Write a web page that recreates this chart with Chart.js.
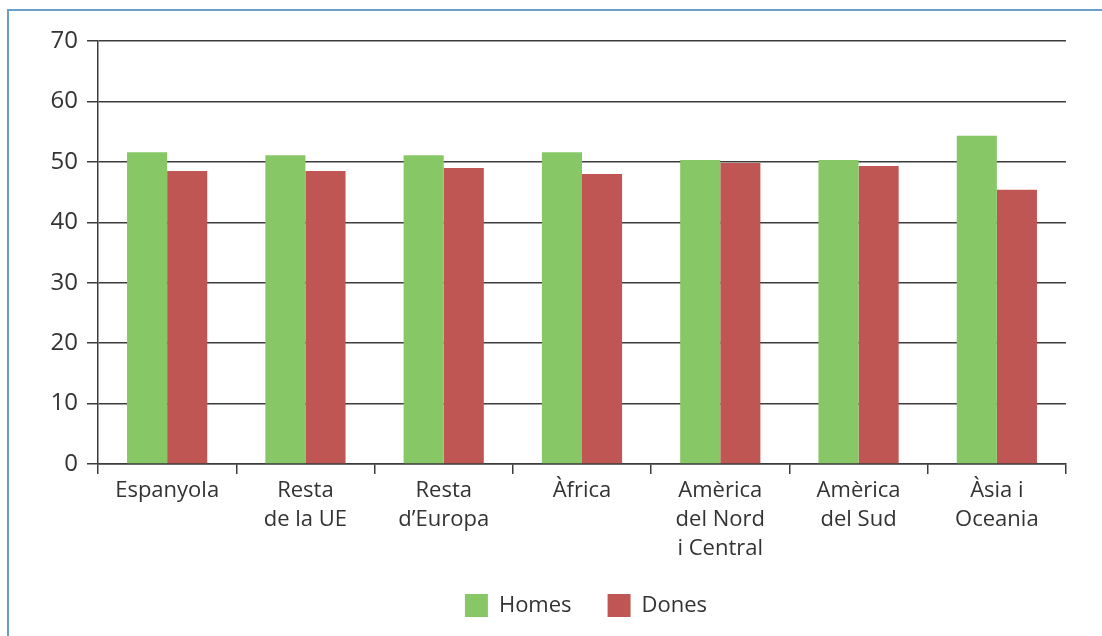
<!DOCTYPE html>
<html>
<head>
<meta charset="utf-8">
<script src="https://cdn.jsdelivr.net/npm/chart.js@4.4.1/dist/chart.umd.min.js"></script>
<style>
  html, body { margin: 0; padding: 0; background: #fff; }
  #marc { position: absolute; left: 7px; top: 9px; width: 1200px; height: 700px;
          border-left: 2px solid #6a9fcc; border-top: 2px solid #6a9fcc; }
  #wrap { position: absolute; left: 0; top: 0; width: 1102px; height: 636px; }
</style>
</head>
<body>
<div id="marc"></div>
<div id="wrap"><canvas id="grafic" width="1102" height="636"></canvas></div>
<script>
// Dades del gràfic
const categories = [
    "Espanyola",
    ["Resta", "de la UE"],
    ["Resta", "d\u2019Europa"],
    "\u00c0frica",
    ["Am\u00e8rica", "del Nord", "i Central"],
    ["Am\u00e8rica", "del Sud"],
    ["\u00c0sia i", "Oceania"]
];
const homes = [51.6, 51.1, 51.1, 51.6, 50.3, 50.3, 54.3];
const dones = [48.5, 48.5, 49.0, 48.0, 49.8, 49.3, 45.4];
const ticksY = [0, 10, 20, 30, 40, 50, 60, 70];

const colorText = "#333333";
const colorLinia = "#3c3c3c";
const font = { family: "'Open Sans', sans-serif", size: 22, lineHeight: 1.32 };
const fontY = { family: "'Open Sans', sans-serif", size: 24 };

// centra la llegenda sota l'àrea del gràfic, no sota tot el canvas
const llegendaCentrada = {
    id: 'llegendaCentrada',
    afterLayout(chart) {
        chart.legend.left = chart.chartArea.left + 4;
        chart.legend.right = chart.chartArea.right + 4;
    }
};

const ctx = document.getElementById('grafic').getContext('2d');
new Chart(ctx, {
    type: 'bar',
    data: {
        labels: categories,
        datasets: [
            { label: "Homes", data: homes, backgroundColor: "#88c766" },
            { label: "Dones", data: dones, backgroundColor: "#c05654" }
        ]
    },
    options: {
        responsive: false,
        animation: false,
        categoryPercentage: 0.58,
        barPercentage: 1.0,
        layout: { padding: { left: 0, right: 36, top: 41, bottom: 9 } },
        plugins: {
            legend: {
                position: 'bottom',
                labels: {
                    boxWidth: 23,
                    boxHeight: 23,
                    padding: 36,
                    color: colorText,
                    font: font
                }
            },
            tooltip: { enabled: false }
        },
        scales: {
            x: {
                grid: { drawOnChartArea: false, tickLength: 10, color: colorLinia, lineWidth: 1.5, offset: true },
                border: { color: colorLinia, width: 1.5 },
                ticks: { color: colorText, font: font, padding: 2, maxRotation: 0, autoSkip: false },
                afterFit: s => { s.height = 94; }
            },
            y: {
                min: 0,
                max: 70,
                afterBuildTicks: s => { s.ticks = ticksY.map(v => ({ value: v })); },
                grid: { color: colorLinia, lineWidth: 1.5, tickLength: 11 },
                border: { color: colorLinia, width: 1.5 },
                ticks: { color: colorText, font: fontY, padding: 9 },
                afterFit: s => { s.width = 98; }
            }
        }
    },
    plugins: [llegendaCentrada]
});
</script>
</body>
</html>
